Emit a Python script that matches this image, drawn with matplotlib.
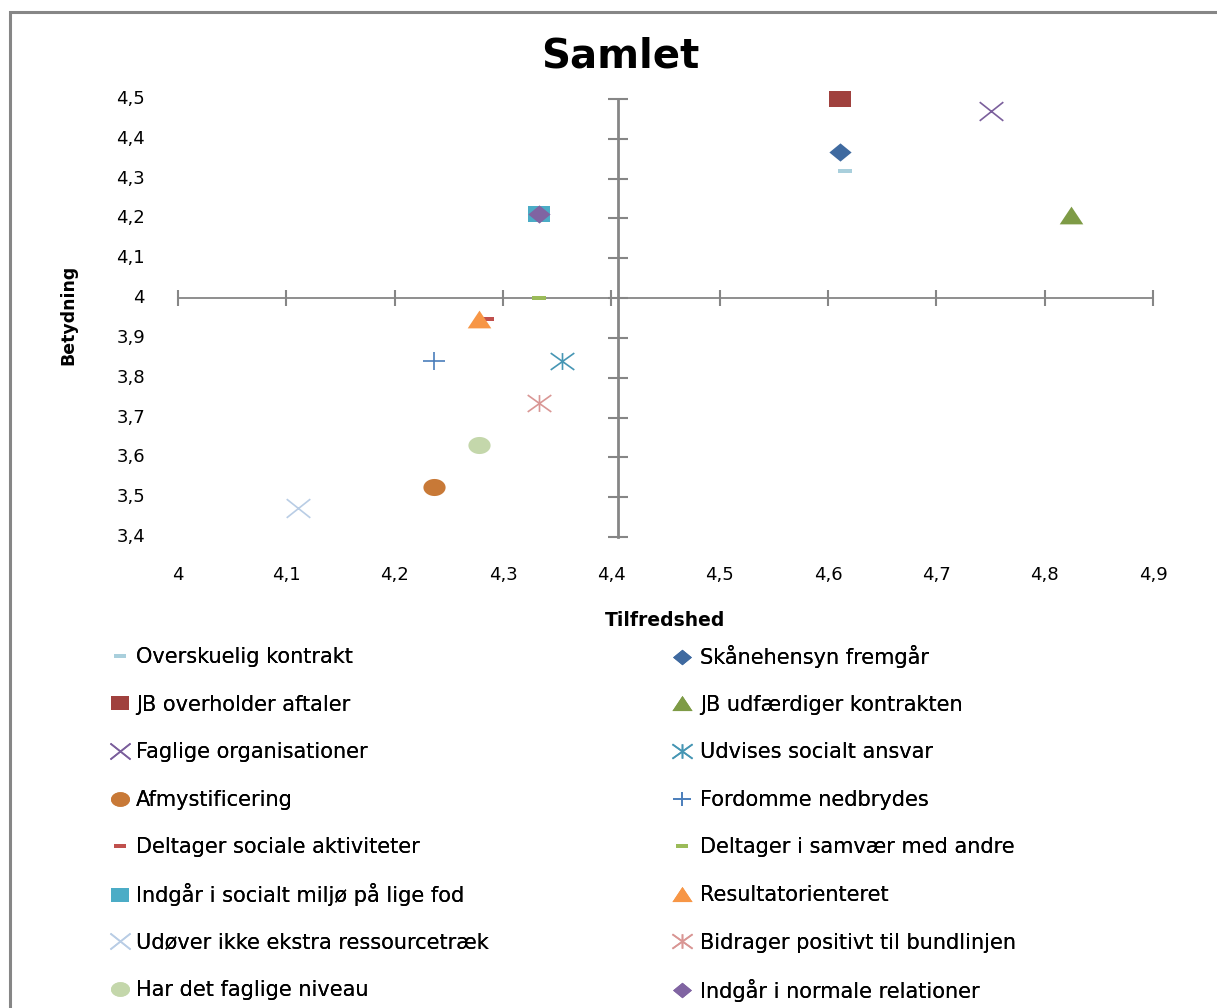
import numpy as np
import matplotlib
matplotlib.use("Agg")
import matplotlib.pyplot as plt
from matplotlib.path import Path
from matplotlib.patches import Rectangle

# ---- data -------------------------------------------------------------
labels = [
    "Overskuelig kontrakt", "Skånehensyn fremgår",
    "JB overholder aftaler", "JB udfærdiger kontrakten",
    "Faglige organisationer", "Udvises socialt ansvar",
    "Afmystificering", "Fordomme nedbrydes",
    "Deltager sociale aktiviteter", "Deltager i samvær med andre",
    "Indgår i socialt miljø på lige fod", "Resultatorienteret",
    "Udøver ikke ekstra ressourcetræk", "Bidrager positivt til bundlinjen",
    "Har det faglige niveau", "Indgår i normale relationer",
]
tilfredshed = [4.616, 4.611, 4.611, 4.824, 4.750, 4.354, 4.236, 4.236,
               4.285, 4.333, 4.333, 4.278, 4.111, 4.333, 4.278, 4.333]
betydning = [4.318, 4.367, 4.500, 4.208, 4.471, 3.842, 3.526, 3.842,
             3.947, 4.000, 4.211, 3.947, 3.474, 3.737, 3.632, 4.211]
x_ticks = [4.0, 4.1, 4.2, 4.3, 4.4, 4.5, 4.6, 4.7, 4.8, 4.9]
y_ticks = [3.4, 3.5, 3.6, 3.7, 3.8, 3.9, 4.0, 4.1, 4.2, 4.3, 4.4, 4.5]

# ---- marker shapes (slightly wide, as rendered) ----------------------
def poly(pts):
    pts = list(pts) + [pts[0]]
    return Path(pts, [Path.MOVETO] + [Path.LINETO] * (len(pts) - 2) + [Path.CLOSEPOLY])

def segs(*lines):
    verts, codes = [], []
    for a, b in lines:
        verts += [a, b]
        codes += [Path.MOVETO, Path.LINETO]
    return Path(verts, codes)

t = np.linspace(0, 2 * np.pi, 40, endpoint=False)
M_SQUARE = poly([(-1.375, -1), (1.375, -1), (1.375, 1), (-1.375, 1)])
M_DIAMOND = poly([(0, 1), (1.22, 0), (0, -1), (-1.22, 0)])
M_TRI = poly([(-1.33, -1), (1.33, -1), (0, 1)])
M_ELL = poly(list(zip(1.3 * np.cos(t), np.sin(t))))
M_DASH = poly([(-1.6, -0.5), (1.6, -0.5), (1.6, 0.5), (-1.6, 0.5)])
M_X = segs(((-1.26, -1), (1.26, 1)), ((-1.26, 1), (1.26, -1)))
M_PLUS = segs(((-1.3, 0), (1.3, 0)), ((0, -1), (0, 1)))
M_STAR = segs(((-1.4, -1), (1.4, 1)), ((-1.4, 1), (1.4, -1)), ((0, -1), (0, 1)))

styles = [
    (M_DASH, "#A9CFDC", 9.5, True),
    (M_DIAMOND, "#3F6AA0", 16, True),
    (M_SQUARE, "#A0413E", 16, True),
    (M_TRI, "#7E9B46", 17, True),
    (M_X, "#7B5F9C", 17, False),
    (M_STAR, "#4696B4", 17, False),
    (M_ELL, "#C87937", 16, True),
    (M_PLUS, "#4A7EBB", 16, False),
    (M_DASH, "#C0504D", 9.5, True),
    (M_DASH, "#9BBB59", 9.5, True),
    (M_SQUARE, "#4BACC6", 16, True),
    (M_TRI, "#F79646", 17, True),
    (M_X, "#B9CDE5", 17, False),
    (M_STAR, "#D99694", 17, False),
    (M_ELL, "#C4D7AB", 16, True),
    (M_DIAMOND, "#8064A2", 16, True),
]

# ---- figure -----------------------------------------------------------
W, H = 1217, 1008
fig = plt.figure(figsize=(W / 100, H / 100), dpi=100)
fig.patch.set_facecolor("white")

# chart frame
fig.add_artist(Rectangle((10 / W, -0.1), 1.5, (H - 12) / H + 0.1,
                         transform=fig.transFigure, fill=False,
                         edgecolor="#868686", lw=2.2))

ax_l, ax_r, ax_t, ax_b = 178, 1153, 99, 537
ax = fig.add_axes([ax_l / W, 1 - ax_b / H, (ax_r - ax_l) / W, (ax_b - ax_t) / H])
ax.set_xlim(4.0, 4.9)
ax.set_ylim(3.4, 4.5)

handles = []
for x, y, lab, (mk, col, ms, filled) in zip(tilfredshed, betydning, labels, styles):
    h, = ax.plot([x], [y], linestyle="none", marker=mk, markersize=ms,
                 markerfacecolor=col if filled else "none",
                 markeredgecolor=col, markeredgewidth=0 if filled else 1.2,
                 label=lab, clip_on=False, zorder=3)
    handles.append(h)

# axes crossing in the middle of the data range
for side in ("top", "right"):
    ax.spines[side].set_visible(False)
ax.spines["left"].set_position(("data", 4.406))
ax.spines["bottom"].set_position(("data", 4.0))
ax.spines["left"].set_color("#868686")
ax.spines["bottom"].set_color("#868686")
ax.spines["left"].set_linewidth(2.0)
ax.spines["bottom"].set_linewidth(1.3)
ax.set_xticks(x_ticks)
ax.set_yticks(y_ticks)
ax.tick_params(axis="x", direction="inout", length=11, width=1.5,
               color="#868686", labelbottom=False)
ax.tick_params(axis="y", direction="inout", length=15, width=1.5,
               color="#868686", labelleft=False)
ax.set_facecolor("none")

def fmt(v):
    s = f"{v:.1f}".rstrip("0").rstrip(".")
    return s.replace(".", ",")

# tick labels sit along the low edge of the plot area
for v in y_ticks:
    ax.text((145 - ax_l) / (ax_r - ax_l), v, fmt(v), transform=ax.get_yaxis_transform(),
            ha="right", va="center", fontsize=13, color="#000000")
for v in x_ticks:
    ax.text(v, -(575 - ax_b) / (ax_b - ax_t), fmt(v), transform=ax.get_xaxis_transform(),
            ha="center", va="center", fontsize=13, color="#000000")

fig.text(620 / W, 1 - 57 / H, "Samlet", ha="center", va="center",
         fontsize=29, fontweight="bold")
fig.text(665 / W, 1 - 620 / H, "Tilfredshed", ha="center", va="center",
         fontsize=13.5, fontweight="bold")
fig.text(68 / W, 1 - 315 / H, "Betydning", ha="center", va="center",
         fontsize=12.5, fontweight="bold", rotation=90)

# legend: two columns read row by row, one entry per slot
row_y = [657 + 47.6 * i for i in range(8)]
col_x = [110, 672]
for i, (h, lab) in enumerate(zip(handles, labels)):
    r, c = divmod(i, 2)
    leg = fig.legend([h], [lab], frameon=False, fontsize=15, handlelength=1.0,
                     handletextpad=0.25 if c == 0 else 0.35, markerscale=0.85,
                     borderpad=0, borderaxespad=0, loc="center left",
                     bbox_to_anchor=(col_x[c] / W, 1 - row_y[r] / H))
    fig.add_artist(leg)

fig.savefig("out.png", dpi=100, facecolor="white")
